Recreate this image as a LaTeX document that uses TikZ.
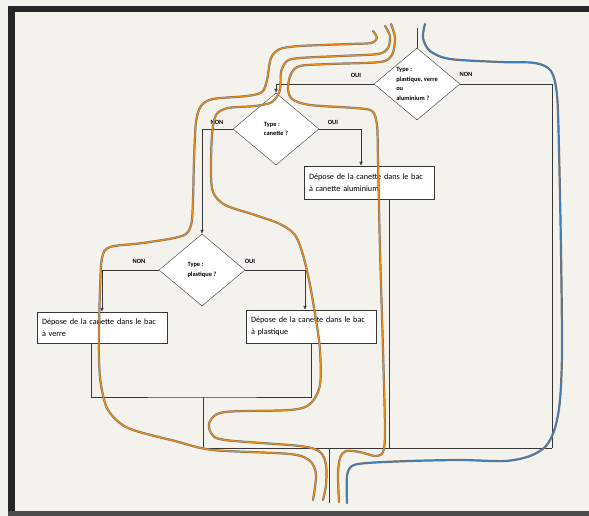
\documentclass[tikz,border=0pt]{standalone}
\usepackage{fontspec}
\setmainfont{Carlito}
\usetikzlibrary{shapes.geometric,arrows.meta}
\definecolor{papier}{RGB}{243,242,237}
\definecolor{trait}{RGB}{55,55,55}
\definecolor{orangec}{RGB}{232,142,28}
\definecolor{bleuc}{RGB}{62,128,190}
\definecolor{bordc}{RGB}{120,110,102}
\begin{document}
\begin{tikzpicture}[x=1pt,y=-1pt,
  every node/.style={font=\fontsize{8.2}{11.5}\selectfont},
  losange/.style={diamond,draw=trait,fill=white,thin,minimum width=86pt,minimum height=72pt,
    inner sep=0pt,aspect=1.2,align=left,font=\bfseries\fontsize{6.4}{9.6}\selectfont},
  boite/.style={rectangle,draw=trait,fill=white,thin,minimum width=130pt,minimum height=33pt,
    text width=120pt,inner xsep=5pt,align=left},
  etiq/.style={font=\bfseries\fontsize{6.4}{7}\selectfont,inner sep=1pt},
  fleche/.style={draw=trait,thin,-{Latex[length=4pt,width=3.5pt]}},
  lien/.style={draw=trait,thin},
  chemin/.style={line width=1.2pt,line cap=round,
    preaction={draw=bordc,line width=2.2pt,line cap=round}}]
  \useasboundingbox (0,0) rectangle (589,516);
  \fill[papier] (0,0) rectangle (589,516);

  % Cadre
  \fill[black!85] (8,6) rectangle (589,12);
  \fill[black!85] (8,6) rectangle (15,516);
  \fill[black!70] (8,511) rectangle (589,516);

  % Losanges
  \node[losange] (d1) at (417,84) {Type :\\plastique, verre\\ou\\aluminium ?};
  \node[losange] (d2) at (276,129) {Type :\\canette ?};
  \node[losange] (d3) at (202,270) {Type :\\plastique ?};

  % Boites
  \node[boite] (alu) at (369,182.5) {Dépose de la canette dans le bac\\à canette aluminium};
  \node[boite,minimum height=31pt] (verre) at (102,327.5) {Dépose de la canette dans le bac\\à verre};
  \node[boite] (plast) at (311,326.5) {Dépose de la canette dans le bac\\à plastique};

  % Points de jonction
  \coordinate (entree) at (417,28);
  \coordinate (j1) at (203,397);
  \coordinate (j2) at (203,448);
  \coordinate (j3) at (552,448);
  \coordinate (j4) at (329,448);
  \coordinate (sortie) at (329,503);

  % Liaisons
  \draw[lien] (entree) -- (d1.north);
  \foreach \from/\to in {d1.west/d2.north, d2.west/d3.north, d3.west/verre.north}
    \draw[fleche] (\from) -| (\to);
  \draw[fleche] (d2.east) -| ([xshift=-8pt]alu.north);
  \draw[fleche] (d3.east) -| ([xshift=-6pt]plast.north);
  \draw[lien] (d1.east) -| (j3);
  \draw[lien] ([xshift=-11pt]verre.south) |- (j1) -| (plast.south);
  \draw[lien] ([xshift=20pt]alu.south) -- ([xshift=20pt]alu.south |- j2);
  \draw[lien] (j1) -- (j2) -- (j3);
  \draw[lien] (j4) -- (sortie);

  % Etiquettes
  \node[etiq] (l1) at (356,75) {OUI};
  \node[etiq] (l2) at (466,74) {NON};
  \node[etiq] (l3) at (333,122) {OUI};
  \node[etiq] (l4) at (217,122) {NON};
  \node[etiq] (l5) at (139,261) {NON};
  \node[etiq] (l6) at (250,261) {OUI};

  % Chemins
  \draw[chemin,orangec] plot[smooth,tension=0.5] coordinates {(373,31) (377,38) (371,43) (350,44)
    (300,46) (280,49) (271,58) (267,80) (262,92) (247,96) (213,99) (201,106) (196,122) (194,160)
    (193,200) (191,225) (182,236) (143,243) (110,247) (102,258) (100,290) (99,330) (99,360)
    (101,385) (108,410) (128,428) (175,441) (213,450) (290,454) (310,461) (316,475) (313,500)};
  \draw[chemin,orangec] plot[smooth,tension=0.5] coordinates {(385,26) (390,36) (388,48) (378,54)
    (340,56) (300,58) (287,61) (281,72) (280,90) (272,102) (255,106) (228,108) (216,115) (212,135)
    (211,170) (213,192) (225,205) (255,215) (280,224) (295,235) (303,255) (310,285) (316,320)
    (320,350) (320,385) (310,404) (290,410) (225,412) (210,421) (211,433) (225,440) (300,446)
    (320,452) (326,465) (326,485) (323,500)};
  \draw[chemin,orangec] plot[smooth,tension=0.5] coordinates {(391,24) (395,38) (392,55) (380,62)
    (330,64) (300,66) (291,74) (288,88) (292,99) (310,105) (355,108) (372,111) (377,125)
    (378,160) (380,250) (383,350) (385,430) (383,452) (375,456) (360,452) (346,451) (340,458)
    (338,475) (339,502)};
  \draw[chemin,bleuc] plot[smooth,tension=0.5] coordinates {(425,24) (423,38) (430,51) (450,59)
    (500,62) (535,63) (551,71) (557,95) (559,150) (561,250) (562,350) (560,400) (555,428)
    (546,446) (530,456) (505,461) (460,460) (410,461) (367,463) (352,466) (347,476) (347,503)};
\end{tikzpicture}
\end{document}
